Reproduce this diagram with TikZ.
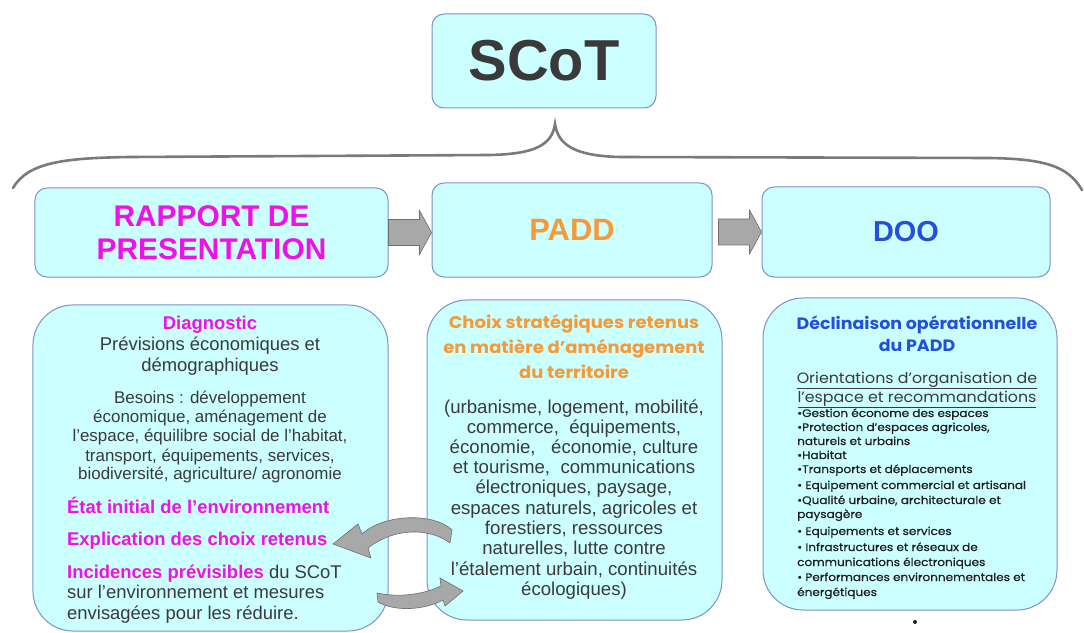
\documentclass[tikz,border=0pt]{standalone}
\usepackage{fontspec}
\setmainfont{Liberation Sans}
\newfontfamily\geo[FakeStretch=1.06]{Poppins}
\newfontfamily\geobul[FakeStretch=1.1,FakeBold=0.5]{Poppins}
\usetikzlibrary{calc}
\definecolor{boxfill}{HTML}{CCFFFF}
\definecolor{boxline}{HTML}{8090C8}
\definecolor{mag}{HTML}{F010E8}
\definecolor{orng}{HTML}{F59A38}
\definecolor{blu}{HTML}{2250D8}
\definecolor{txt}{HTML}{3A3A3A}
\definecolor{blk}{HTML}{1E1E1E}
\definecolor{arrg}{HTML}{A8A8A8}
\definecolor{arrd}{HTML}{6E6E6E}
\definecolor{brc}{HTML}{7A7A7A}
\tikzset{
  topbox/.style={draw=boxline, fill=boxfill, line width=1bp, rounded corners=12bp, inner sep=0pt, align=center},
  bigbox/.style={draw=boxline, fill=boxfill, line width=1bp, rounded corners=40bp, inner sep=0pt},
  blockarr/.style={fill=arrg, draw=arrd, line width=0.6bp},
  ln/.style={anchor=base, inner sep=0pt, text=txt, font=\fontsize{18.5}{20}\selectfont},
  lnsm/.style={ln, font=\fontsize{17}{19}\selectfont},
  lnmag/.style={ln, text=mag, font=\fontsize{18.5}{20}\selectfont\bfseries},
  lnor/.style={ln, text=orng, font=\geo\fontsize{17}{19}\selectfont\bfseries},
  lnmid/.style={ln, font=\fontsize{18.7}{20}\selectfont},
  lnbl/.style={ln, text=blu, font=\geo\fontsize{16.5}{18}\selectfont\bfseries},
  lnund/.style={ln, font=\geo\fontsize{15}{16}\selectfont},
  lnbul/.style={ln, anchor=base west, text=blk, font=\geobul\fontsize{11}{12}\selectfont},
}
\begin{document}
\begin{tikzpicture}[x=1bp, y=-1bp]
\useasboundingbox (0,0) rectangle (1084,633);
\fill[white] (0,0) rectangle (1084,633);

% brace
\draw[brc, line width=2.6bp, line cap=round]
  (13,188) .. controls (28,162) and (65,158) .. (130,157) -- (490,155)
  .. controls (535,154) and (552,145) .. (555,124)
  .. controls (558,145) and (575,156) .. (620,157) -- (990,158)
  .. controls (1045,159) and (1068,166) .. (1082,190);

% top boxes
\node[topbox, minimum width=224bp, minimum height=94bp, text=txt,
      font=\fontsize{58}{60}\selectfont\bfseries] (scot) at (544,61) {SCoT};
\node[topbox, minimum width=353bp, minimum height=89bp, text=mag,
      font=\fontsize{30}{33}\selectfont\bfseries] (rp) at (211.5,232.5) {RAPPORT DE\\PRESENTATION};
\node[topbox, minimum width=280bp, minimum height=94bp, text=orng,
      font=\fontsize{31}{33}\selectfont\bfseries] (padd) at (572,230) {PADD};
\node[topbox, minimum width=288bp, minimum height=90bp, text=blu,
      font=\fontsize{29}{32}\selectfont\bfseries] (doo) at (906,232) {DOO};

% block arrows
\fill[blockarr] ($(rp.east)+(0,-13)$) -- ($(rp.east -| padd.west)+(-12,-13)$)
  -- ($(rp.east -| padd.west)+(-12,-22)$) -- (rp.east -| padd.west)
  -- ($(rp.east -| padd.west)+(-12,22)$) -- ($(rp.east -| padd.west)+(-12,13)$)
  -- ($(rp.east)+(0,13)$) -- cycle;
\fill[blockarr] ($(padd.east |- doo.west)+(6,-13)$) -- ($(doo.west)+(-12,-13)$)
  -- ($(doo.west)+(-12,-22)$) -- (doo.west)
  -- ($(doo.west)+(-12,22)$) -- ($(doo.west)+(-12,13)$)
  -- ($(padd.east |- doo.west)+(6,13)$) -- cycle;

% bottom boxes
\node[bigbox, minimum width=355bp, minimum height=326bp] (bl) at (210.5,468) {};
\node[bigbox, minimum width=295bp, minimum height=320bp] (bm) at (574.5,460) {};
\node[bigbox, minimum width=294bp, minimum height=312bp] (br) at (910,454) {};

% left box text
\node[lnmag] (t1) at (210,329) {Diagnostic};
\node[ln] (t2) at (210,350) {Prévisions économiques et};
\node[ln] (t3) at (210,371) {démographiques};
\node[lnsm] (t4) at (210,403) {Besoins : développement};
\node[lnsm] (t5) at (210,422) {économique, aménagement de};
\node[lnsm] (t6) at (210,441) {l’espace, équilibre social de l’habitat,};
\node[lnsm] (t7) at (210,461) {transport, équipements, services,};
\node[lnsm] (t8) at (210,479) {biodiversité, agriculture/ agronomie};
\node[lnmag, anchor=base west] (t9) at (67,513) {État initial de l’environnement};
\node[lnmag, anchor=base west] (t10) at (67,545) {Explication des choix retenus};
\node[ln, anchor=base west] (t11) at (67,578) {\textcolor{mag}{\bfseries Incidences prévisibles} du SCoT};
\node[ln, anchor=base west] (t12) at (67,598) {sur l’environnement et mesures};
\node[ln, anchor=base west] (t13) at (67,619) {envisagées pour les réduire.};

% middle box text
\node[lnor] (m1) at (574,328) {Choix stratégiques retenus};
\node[lnor] (m2) at (574,353) {en matière d’aménagement};
\node[lnor] (m3) at (574,378) {du territoire};
\node[lnmid] (m4) at (574,413) {(urbanisme, logement, mobilité,};
\node[lnmid] (m5) at (574,433) {commerce,\ \ équipements,};
\node[lnmid] (m6) at (574,453) {économie,\ \ \ économie, culture};
\node[lnmid] (m7) at (574,473) {et tourisme,\ \ communications};
\node[lnmid] (m8) at (574,493) {électroniques, paysage,};
\node[lnmid] (m9) at (574,514) {espaces naturels, agricoles et};
\node[lnmid] (m10) at (574,534) {forestiers, ressources};
\node[lnmid] (m11) at (574,554) {naturelles, lutte contre};
\node[lnmid] (m12) at (574,575) {l’étalement urbain, continuités};
\node[lnmid] (m13) at (574,595) {écologiques)};

% right box text
\node[lnbl] (r1) at (917,329) {Déclinaison opérationnelle};
\node[lnbl] (r2) at (917,351) {du PADD};
\node[lnund] (r3) at (917,383) {\underline{Orientations d’organisation de}};
\node[lnund] (r4) at (917,402) {\underline{l’espace et recommandations}};
\node[lnbul] (b1) at (797,417) {•Gestion économe des espaces};
\node[lnbul] (b2) at (797,431) {•Protection d’espaces agricoles,};
\node[lnbul] (b3) at (797,445) {naturels et urbains};
\node[lnbul] (b4) at (797,459) {•Habitat};
\node[lnbul] (b5) at (797,473) {•Transports et déplacements};
\node[lnbul] (b6) at (797,489) {• Equipement commercial et artisanal};
\node[lnbul] (b7) at (797,504) {•Qualité urbaine, architecturale et};
\node[lnbul] (b8) at (797,518) {paysagère};
\node[lnbul] (b9) at (797,535) {• Equipements et services};
\node[lnbul] (b10) at (797,551) {• Infrastructures et réseaux de};
\node[lnbul] (b11) at (797,566) {communications électroniques};
\node[lnbul] (b12) at (797,581) {• Performances environnementales et};
\node[lnbul] (b13) at (797,596) {énergétiques};

% curved arrows
\fill[blockarr] (452,530) -- (450,543) .. controls (430,528) and (395,527) .. (368,548)
  -- (371,558) -- (333,544) -- (358,524) -- (362,534)
  .. controls (385,513) and (435,513) .. (452,530) -- cycle;
\fill[blockarr] (377,593) -- (378,602) .. controls (395,612) and (425,610) .. (443,600)
  -- (445,606) -- (463,591) -- (440,578) -- (441,586)
  .. controls (420,596) and (395,597) .. (377,593) -- cycle;

% dot
\fill[blk] (915,622) circle (2bp);
\end{tikzpicture}
\end{document}
